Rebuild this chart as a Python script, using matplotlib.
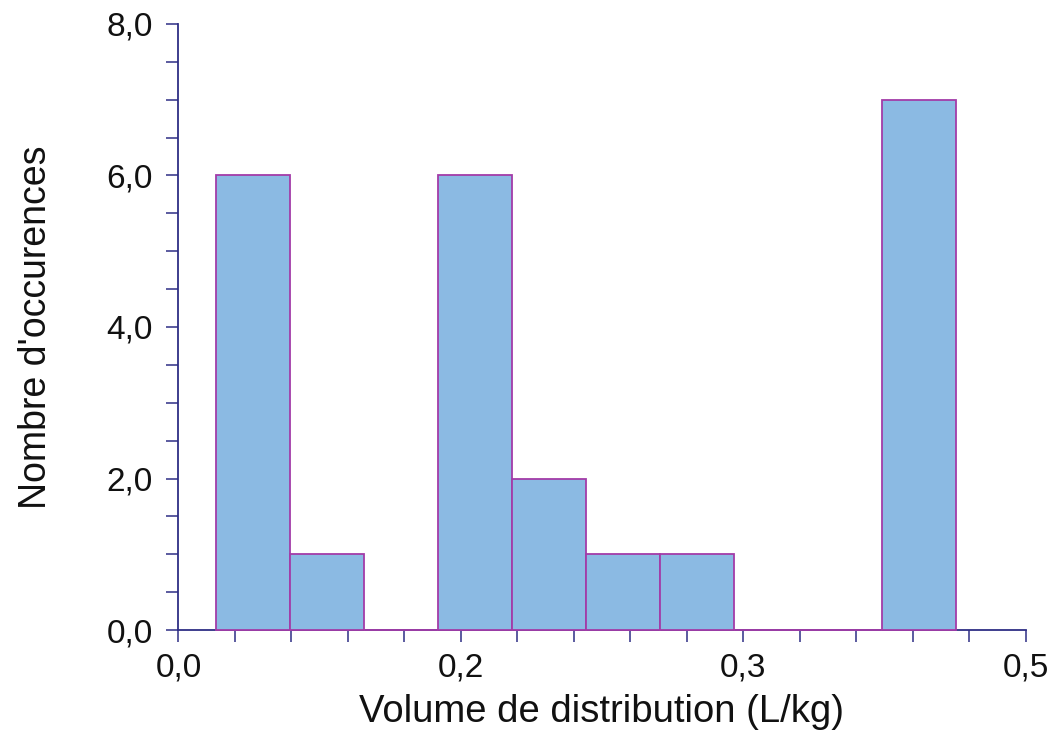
import numpy as np
import matplotlib.pyplot as plt
from matplotlib.ticker import MultipleLocator, FuncFormatter

# bornes des classes (L/kg) et effectifs
bin_edges = [0.0224, 0.0661, 0.1097, 0.1534, 0.1970, 0.2407,
             0.2843, 0.3280, 0.3716, 0.4153, 0.4589]
counts = [6, 1, 0, 6, 2, 1, 1, 0, 0, 7]

plt.rcParams['font.family'] = ['Liberation Sans', 'DejaVu Sans']

AXIS_COLOR = '#2e2e85'
FILL = '#8bbae3'
EDGE = '#a33ca8'

fig = plt.figure(figsize=(10.54, 7.33), dpi=100)
ax = fig.add_axes([0.1693, 0.1405, 0.8037, 0.8268])

edges = np.array(bin_edges)
ax.bar(edges[:-1], counts, width=np.diff(edges), align='edge',
       color=FILL, edgecolor=EDGE, linewidth=1.3, zorder=3, clip_on=False)

ax.set_xlim(0, 0.5)
ax.set_ylim(0, 8)

for side in ['top', 'right']:
    ax.spines[side].set_visible(False)
for side in ['left', 'bottom']:
    ax.spines[side].set_color(AXIS_COLOR)
    ax.spines[side].set_linewidth(1.3)

ax.xaxis.set_major_locator(MultipleLocator(1 / 6))
ax.xaxis.set_minor_locator(MultipleLocator(1 / 30))
ax.yaxis.set_major_locator(MultipleLocator(2))
ax.yaxis.set_minor_locator(MultipleLocator(0.5))

fmt = FuncFormatter(lambda v, p: f"{v:.1f}".replace('.', ','))
ax.xaxis.set_major_formatter(fmt)
ax.yaxis.set_major_formatter(fmt)

ax.tick_params(which='both', direction='out', length=8.5, width=1.1,
               color=AXIS_COLOR, labelsize=24, labelcolor='#111111')
ax.tick_params(axis='x', which='major', pad=8)
ax.tick_params(axis='y', which='major', pad=10)

ax.set_xlabel('Volume de distribution (L/kg)', fontsize=27.5, color='#111111', labelpad=7)
ax.set_ylabel("Nombre d'occurences", fontsize=27, color='#111111', labelpad=38)

fig.savefig('out.png', dpi=100)
